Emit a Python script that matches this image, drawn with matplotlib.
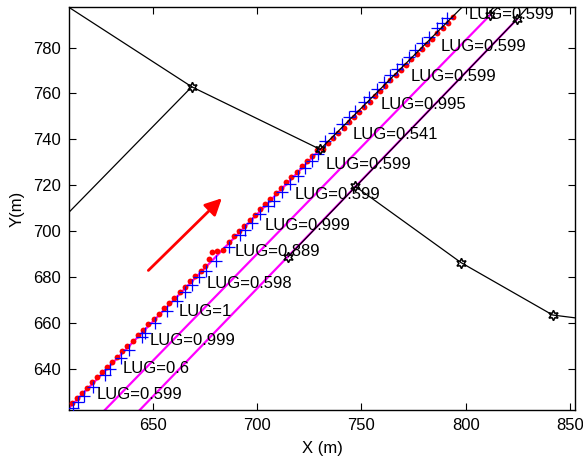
import matplotlib
matplotlib.use("Agg")
import matplotlib.pyplot as plt

plt.rcParams['font.family'] = ['Liberation Sans', 'DejaVu Sans']

# ---------------- data ----------------
# black road polylines
road1_x = [605.0, 668.8, 730.3]
road1_y = [800.4, 762.9, 735.7]
road2_x = [605.0, 668.8]
road2_y = [703.7, 762.9]
road3_x = [747.1, 797.8, 841.7, 860.0]
road3_y = [719.6, 686.4, 663.6, 661.5]
road4_x = [730.3, 801.0]
road4_y = [735.7, 800.0]
road5_x = [811.8, 817.0]
road5_y = [794.2, 798.9]
road6_x = [715.0, 824.6, 832.0]
road6_y = [689.0, 792.3, 800.0]

# magenta lane lines
laneA_x = [605.0, 730.3]
laneA_y = [618.5, 735.7]
laneB_x = [623.0, 811.8]
laneB_y = [618.4, 794.2]
laneC_x = [640.0, 824.6]
laneC_y = [618.6, 792.3]

# star nodes
node_x = [668.8, 730.3, 747.1, 797.8, 841.7, 715.0, 811.8, 824.6]
node_y = [762.9, 735.7, 719.6, 686.4, 663.6, 689.0, 794.2, 792.3]

# red dots
red_x = [611.5, 613.8, 616.2, 618.6, 621.0, 623.4, 625.8, 628.2, 630.6, 633.0,
         635.5, 638.0, 640.5, 643.0, 645.5, 648.0, 650.5, 653.0, 655.5, 658.0,
         660.5, 663.0, 665.5, 668.0, 670.5, 673.0, 675.3, 676.9, 678.4, 681.1,
         683.9, 686.5, 689.0, 691.5, 694.0, 696.5, 699.0, 701.5, 704.0, 706.5,
         709.0, 711.5, 714.0, 716.5, 719.0, 721.5, 724.0, 726.5, 729.0,
         731.5, 734.0, 736.5, 739.0, 741.5, 744.0, 746.5, 749.0, 751.5, 754.0,
         756.5, 759.0, 761.5, 764.0, 766.5, 769.0, 771.5, 774.0, 776.5, 779.0,
         781.5, 784.0, 786.5, 789.0, 791.5, 794.0]
red_y = [625.4, 627.5, 629.8, 632.0, 634.3, 636.5, 638.7, 641.0, 643.2, 645.5,
         647.8, 650.2, 652.5, 654.8, 657.2, 659.5, 661.9, 664.2, 666.5, 668.9,
         671.2, 673.5, 675.9, 678.2, 680.6, 682.9, 685.0, 688.0, 691.0, 691.4,
         692.0, 695.5, 697.9, 700.2, 702.5, 704.9, 707.2, 709.6, 711.9, 714.2,
         716.6, 718.9, 721.3, 723.6, 725.9, 728.3, 730.6, 733.0, 735.3,
         736.0, 738.3, 740.6, 742.8, 745.1, 747.4, 749.7, 752.0, 754.3, 756.5,
         758.8, 761.1, 763.4, 765.7, 768.0, 770.2, 772.5, 774.8, 777.1, 779.4,
         781.6, 783.9, 786.2, 788.5, 790.8, 793.1]

# blue plus markers
blue_x = [611.8, 614.5, 617.0, 621.5, 627.0, 629.8, 635.0, 638.5, 644.8, 646.5,
          651.2, 656.8, 661.5, 665.5, 668.8, 672.5, 675.5, 680.2, 686.5, 692.0,
          694.5, 697.6, 701.6, 705.5, 708.0, 712.0, 716.0, 719.5, 723.0, 726.5,
          729.5, 732.7, 736.7, 740.7, 743.9, 747.1, 751.1, 753.5, 757.5, 760.7,
          763.9, 767.1, 769.5, 772.7, 775.9, 779.1, 782.3, 786.3, 788.7, 791.1]
blue_y = [623.3, 625.9, 628.2, 632.4, 637.6, 640.2, 645.0, 648.3, 654.2, 655.8,
          660.2, 665.4, 669.8, 673.6, 676.7, 680.1, 682.9, 687.3, 693.2, 698.4,
          700.7, 703.6, 707.4, 711.0, 713.3, 717.1, 720.8, 724.1, 727.4, 730.6,
          733.5, 739.4, 743.0, 746.7, 749.6, 752.5, 756.2, 758.4, 762.0, 765.0,
          767.9, 770.8, 773.0, 775.9, 778.8, 781.8, 784.7, 788.3, 790.5, 792.7]

# labels
label_x = [623.3, 635.7, 648.8, 662.4, 676.0, 689.1, 703.5, 718.3, 732.7,
           745.8, 759.1, 773.5, 787.9, 801.4]
label_y = [628.9, 640.5, 652.7, 665.0, 677.3, 691.3, 702.5, 716.2, 729.2,
           742.2, 755.2, 767.5, 780.4, 794.2]
label_text = ["LUG=0.599", "LUG=0.6", "LUG=0.999", "LUG=1", "LUG=0.598",
              "LUG=0.889", "LUG=0.999", "LUG=0.599", "LUG=0.599", "LUG=0.541",
              "LUG=0.995", "LUG=0.599", "LUG=0.599", "LUG=0.599"]

# direction arrow
arrow_start = (648.0, 683.0)
arrow_end = (683.2, 714.4)

x_ticks = [650, 700, 750, 800, 850]
y_ticks = [640, 660, 680, 700, 720, 740, 760, 780]
x_lim = (610.0, 852.4)
y_lim = (622.4, 797.5)

# ---------------- plot ----------------
fig = plt.figure(figsize=(5.83, 4.62), dpi=100)
ax = fig.add_axes([0.1184, 0.1132, 0.8679, 0.8710])

for lx, ly in [(laneA_x, laneA_y), (laneB_x, laneB_y), (laneC_x, laneC_y)]:
    ax.plot(lx, ly, color='#FF00FF', lw=1.6, zorder=2)

ax.plot(red_x, red_y, 'o', color='#FF0000', ms=4.2, mec='none', zorder=3)
ax.plot(blue_x, blue_y, '+', color='#0000FF', ms=8, mew=0.9, zorder=3)

for rx, ry in [(road1_x, road1_y), (road2_x, road2_y), (road3_x, road3_y),
               (road4_x, road4_y), (road5_x, road5_y), (road6_x, road6_y)]:
    ax.plot(rx, ry, color='black', lw=0.9, zorder=4)

ax.plot(node_x, node_y, linestyle='none', marker=(6, 1, 0), ms=7.5,
        mfc='none', mec='black', mew=1.1, zorder=5)

for tx, ty, tt in zip(label_x, label_y, label_text):
    ax.text(tx, ty, tt, ha='left', va='center', fontsize=12, color='black',
            zorder=6)

ax.annotate('', xy=arrow_end, xytext=arrow_start,
            arrowprops=dict(arrowstyle='-|>,head_length=1.0,head_width=0.5',
                            color='#FF0000', lw=2.0, shrinkA=0, shrinkB=0),
            zorder=6)

ax.set_xlim(*x_lim)
ax.set_ylim(*y_lim)
ax.set_xticks(x_ticks)
ax.set_yticks(y_ticks)
ax.tick_params(direction='in', top=True, right=True, length=5, width=0.8,
               labelsize=12, pad=6)
for s in ax.spines.values():
    s.set_linewidth(1.0)
ax.set_xlabel('X (m)', fontsize=12, labelpad=6)
ax.set_ylabel('Y(m)', fontsize=12, labelpad=6)

fig.savefig('out.png', dpi=100)
